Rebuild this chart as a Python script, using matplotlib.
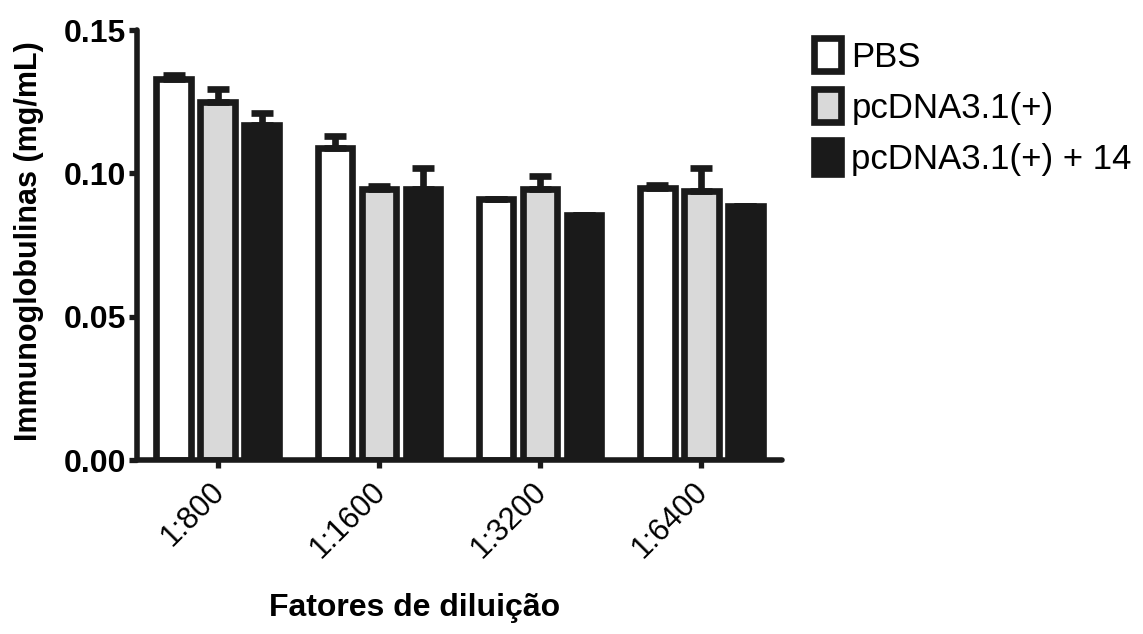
import numpy as np
import matplotlib
matplotlib.use("Agg")
import matplotlib.pyplot as plt
import matplotlib.transforms as mtransforms

plt.rcParams['font.family'] = ['Liberation Sans', 'DejaVu Sans']

# valores
diluicoes = ["1:800", "1:1600", "1:3200", "1:6400"]
grupos = ["PBS", "pcDNA3.1(+)", "pcDNA3.1(+) + 14"]
pbs = [0.1330, 0.1090, 0.0912, 0.0950]
pcdna = [0.1250, 0.0945, 0.0945, 0.0940]
pcdna14 = [0.1170, 0.0945, 0.0855, 0.0885]
pbs_err = [0.0015, 0.0040, 0.0, 0.0010]
pcdna_err = [0.0045, 0.0010, 0.0045, 0.0080]
pcdna14_err = [0.0040, 0.0075, 0.0, 0.0]

cor_escura = "#1a1a1a"
cores = ["white", "#d9d9d9", cor_escura]

fig = plt.figure(figsize=(11.43, 6.34), dpi=100)
ax = fig.add_axes([0.12, 0.2744, 0.564, 0.678])

x = np.arange(len(diluicoes))
largura = 0.215
passo = 0.273
series = [pbs, pcdna, pcdna14]
erros = [pbs_err, pcdna_err, pcdna14_err]
for i, (vals, errs) in enumerate(zip(series, erros)):
    pos = x + (i - 1) * passo
    ax.bar(pos, vals, width=largura, color=cores[i], edgecolor=cor_escura,
           linewidth=4.8, label=grupos[i], zorder=2)
    ax.errorbar(pos, vals, yerr=[np.zeros(len(errs)), errs], fmt="none",
                ecolor=cor_escura, elinewidth=4.8, capsize=8, capthick=4.8,
                zorder=3)

ax.set_xlim(-0.5, 3.5)
ax.set_ylim(0, 0.15)
ax.set_yticks([0.0, 0.05, 0.10, 0.15])
ax.set_yticklabels(["0.00", "0.05", "0.10", "0.15"], fontsize=23, fontweight="bold")
ax.set_xticks(x)
ax.set_xticklabels(diluicoes, rotation=45, ha="right", rotation_mode="anchor",
                   fontsize=22, fontweight="medium")
ax.tick_params(axis="both", width=3.8, length=6, color=cor_escura)
ax.tick_params(axis="y", pad=2)
ax.tick_params(axis="x", pad=6)
# deslocar os rotulos um pouco para a esquerda
desloc = mtransforms.ScaledTranslation(-6 / 72, 0, fig.dpi_scale_trans)
for lbl in ax.get_xticklabels():
    lbl.set_transform(lbl.get_transform() + desloc)

for lado in ["top", "right"]:
    ax.spines[lado].set_visible(False)
for lado in ["left", "bottom"]:
    ax.spines[lado].set_linewidth(4)
    ax.spines[lado].set_color(cor_escura)
    ax.spines[lado].set_capstyle("round")

ax.set_ylabel("Immunoglobulinas (mg/mL)", fontsize=22, fontweight="bold")
ax.yaxis.set_label_coords(-0.145, 0.51)
ax.set_xlabel("Fatores de diluição", fontsize=23, fontweight="bold")
ax.xaxis.set_label_coords(0.43, -0.31)

ax.legend(loc="upper left", bbox_to_anchor=(1.028, 1.014), frameon=False,
          fontsize=25, handlelength=0.78, handleheight=1.1, handletextpad=0.3,
          labelspacing=0.45, borderaxespad=0)

fig.savefig("out.png", dpi=100)
